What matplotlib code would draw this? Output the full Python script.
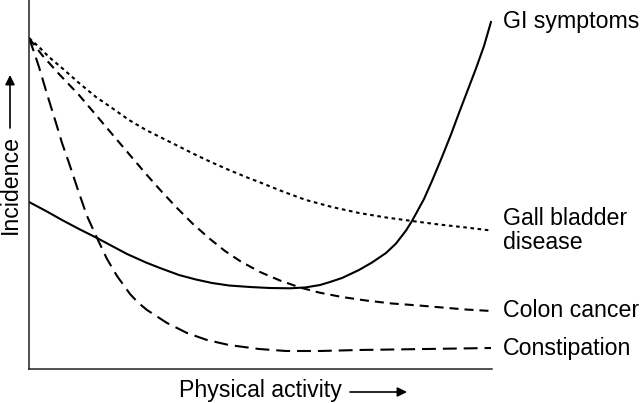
import matplotlib.pyplot as plt

plt.rcParams['font.family'] = ['Liberation Sans', 'DejaVu Sans']
plt.rcParams['lines.scale_dashes'] = False

# values (activity 0-100, incidence 0-100)
gall_x = [0, 2.16, 4.32, 7.13, 10.80, 14.47, 17.93, 21.60, 25.27, 28.73, 32.40,
          36.07, 39.52, 43.20, 46.87, 49.68, 55.08, 59.83, 65.44, 71.27, 77.11,
          82.72, 88.55, 94.38, 99.78]
gall_y = [89.70, 87.26, 84.55, 81.57, 77.51, 73.71, 70.73, 67.48, 64.77, 62.60,
          60.30, 57.99, 55.96, 53.93, 52.03, 50.68, 47.97, 45.80, 43.90, 42.28,
          41.06, 40.11, 39.16, 38.35, 37.53]

colon_x = [0, 2.81, 6.48, 10.80, 14.47, 17.93, 21.60, 25.27, 28.73, 31.97,
           35.42, 39.09, 42.33, 45.57, 49.89, 54.21, 58.53, 62.63, 67.60, 72.79,
           78.40, 84.23, 89.20, 94.38, 99.78]
colon_y = [89.70, 85.09, 79.95, 74.25, 68.83, 63.69, 58.27, 52.85, 47.97, 43.63,
           39.30, 35.23, 31.98, 29.27, 26.29, 23.98, 22.09, 20.73, 19.51, 18.56,
           17.75, 17.21, 16.67, 16.12, 15.72]

const_x = [0, 1.08, 2.16, 3.89, 5.83, 7.13, 8.64, 10.58, 12.53, 14.69, 16.85,
           19.01, 21.81, 23.54, 25.49, 29.81, 34.13, 38.44, 43.20, 49.68, 55.51,
           62.85, 71.27, 85.75, 99.78]
const_y = [89.70, 85.91, 81.84, 74.53, 66.67, 61.25, 55.83, 48.51, 41.46, 35.50,
           29.81, 25.20, 20.33, 18.02, 15.99, 12.47, 9.76, 7.86, 6.50, 5.42,
           4.88, 4.88, 5.15, 5.42, 5.69]

gi_x = [0, 3.67, 7.13, 10.80, 14.69, 17.93, 21.17, 25.27, 28.29, 32.40, 36.07,
        39.52, 43.20, 47.73, 52.05, 56.37, 59.61, 62.85, 65.01, 67.60, 71.27,
        74.08, 77.11, 79.27, 81.43, 82.72, 84.02, 85.31, 87.04, 89.20, 91.14,
        92.87, 94.60, 96.54, 98.27, 99.78]
gi_y = [45.26, 42.82, 40.38, 37.94, 35.50, 33.33, 31.17, 28.86, 27.37, 25.47,
        24.25, 23.31, 22.63, 22.22, 21.95, 21.87, 22.09, 22.76, 23.58, 24.66,
        26.83, 28.86, 31.44, 34.01, 37.53, 40.11, 43.09, 46.07, 50.95, 57.45,
        63.55, 69.38, 75.07, 81.44, 87.53, 94.04]

labels = ['GI symptoms', 'Gall bladder\ndisease', 'Colon cancer', 'Constipation']

fig = plt.figure(figsize=(6.4, 4.03), dpi=100)
ax = fig.add_axes([29 / 640, 34 / 403, 463 / 640, 369 / 403])

lw = 1.5
style = dict(color='black', lw=lw, solid_joinstyle='round',
             dash_joinstyle='round')
ax.plot(gi_x, gi_y, **style)
ax.plot(gall_x, gall_y, dashes=(2.6, 2.6), **style)
ax.plot(colon_x, colon_y, dashes=(6.5, 4.3), **style)
ax.plot(const_x, const_y, dashes=(10, 5), **style)

ends = [gi_y[-1], gall_y[-1], colon_y[-1], const_y[-1]]
for lab, yv in zip(labels, ends):
    ax.text(102.4, yv, lab, fontsize=16.7, va='center', ha='left',
            linespacing=1.1, clip_on=False)

ax.set_xlim(0, 100)
ax.set_ylim(0, 100)
ax.set_xticks([])
ax.set_yticks([])
for side in ['top', 'right']:
    ax.spines[side].set_visible(False)
for side in ['left', 'bottom']:
    ax.spines[side].set_linewidth(1.1)
    ax.spines[side].set_color('#222222')

# axis titles with arrows
fig.text(260 / 640, 1 - 391 / 403, 'Physical activity', fontsize=16.7,
         ha='center', va='center')
fig.text(10 / 640, 1 - 184 / 403, 'Incidence', fontsize=16.7, rotation=90,
         ha='center', va='center')
arrow = dict(arrowstyle='-|>', lw=1.2, color='black', mutation_scale=14,
             shrinkA=0, shrinkB=0)
ax.annotate('', xy=(407, 403 - 392), xytext=(350, 403 - 392),
            xycoords='figure pixels', textcoords='figure pixels',
            arrowprops=arrow)
ax.annotate('', xy=(10, 403 - 75), xytext=(10, 403 - 128),
            xycoords='figure pixels', textcoords='figure pixels',
            arrowprops=arrow)

fig.savefig('out.png', dpi=100)
